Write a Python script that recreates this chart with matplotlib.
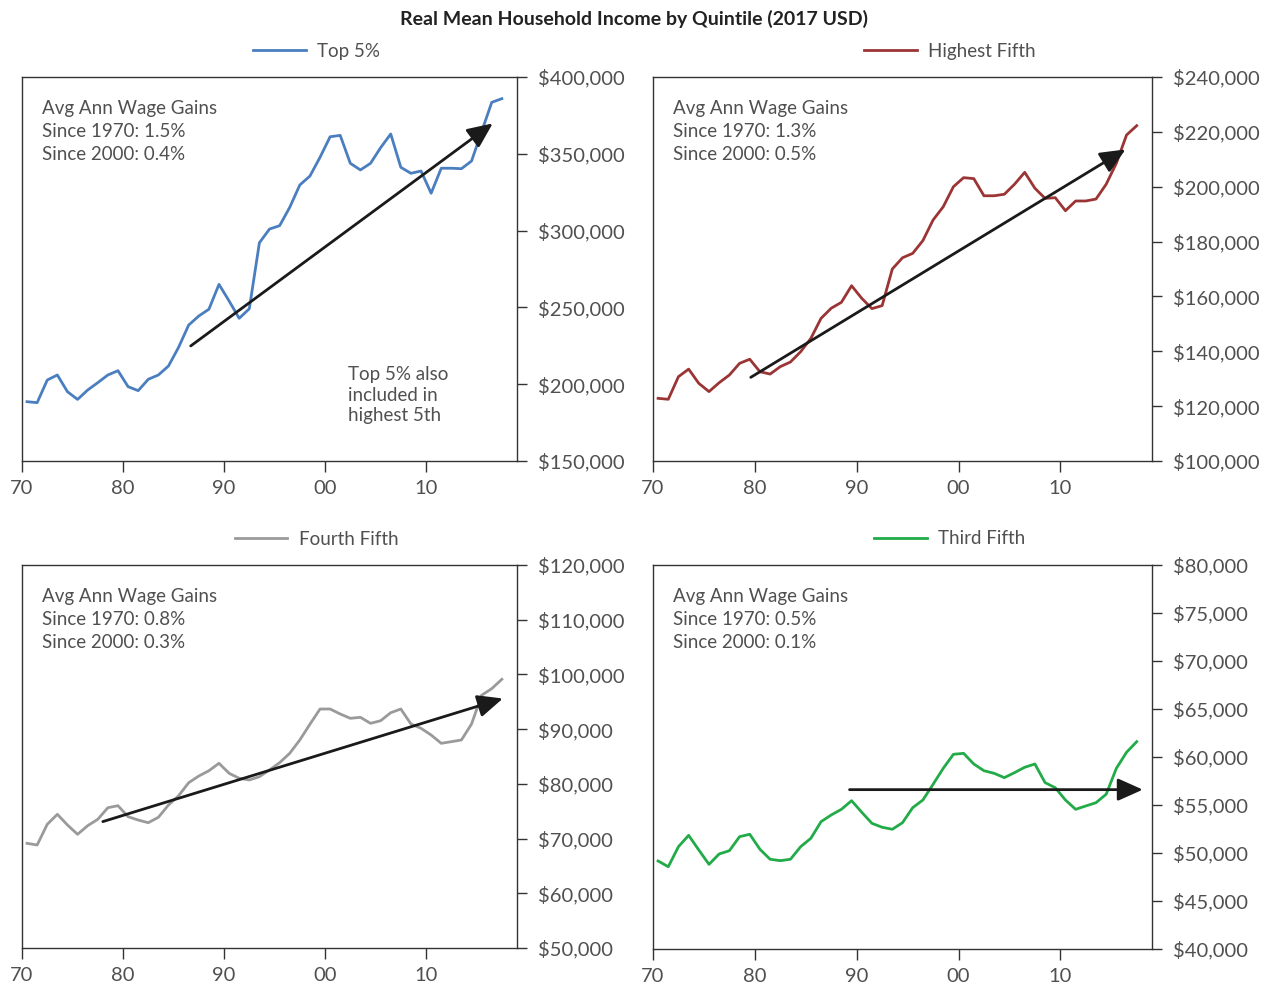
import matplotlib
matplotlib.use("Agg")
import matplotlib.pyplot as plt
from matplotlib.ticker import FuncFormatter, MultipleLocator

plt.rcParams['font.family'] = ['Lato', 'DejaVu Sans']

# Years 1970-2017, plotted at mid-year
years = list(range(1970, 2018))

top5 = [188600, 188000, 202700, 206000, 195100, 190100, 196200, 201000, 206000, 208800,
        198400, 195800, 203200, 206000, 211850, 224000, 238500, 244400, 248800, 265000,
        254200, 242900, 249100, 292100, 301000, 303200, 315100, 329700, 335500, 347700,
        361100, 362000, 343800, 339500, 343800, 354000, 362900, 341200, 337300, 338800,
        324300, 340600, 340600, 340300, 345300, 364400, 383500, 385900]

highest = [122850, 122500, 130750, 133500, 128300, 125300, 128550, 131350, 135600, 137100,
           132550, 131700, 134400, 136100, 139850, 144700, 152000, 155700, 157850, 163900,
           159300, 155550, 156650, 170000, 174100, 175700, 180350, 187850, 192700, 200000,
           203300, 202950, 196700, 196700, 197250, 200900, 205250, 199450, 195750, 196000,
           191250, 194800, 194800, 195500, 200900, 208550, 218850, 222250]

fourth = [69130, 68830, 72610, 74440, 72480, 70780, 72350, 73520, 75640, 76010,
          74000, 73390, 72900, 73890, 76130, 77830, 80210, 81430, 82400, 83760,
          81930, 81020, 80710, 81310, 82530, 83870, 85580, 88020, 90890, 93680,
          93680, 92770, 91980, 92160, 91060, 91540, 93000, 93680, 90940, 90150,
          88930, 87410, 87710, 88020, 90940, 96200, 97400, 99110]

third = [49170, 48570, 50660, 51840, 50310, 48820, 49900, 50240, 51700, 51950,
         50390, 49350, 49200, 49350, 50660, 51530, 53260, 53960, 54550, 55450,
         54240, 53090, 52680, 52470, 53160, 54720, 55520, 57150, 58820, 60280,
         60380, 59270, 58570, 58300, 57850, 58370, 58930, 59270, 57330, 56800,
         55520, 54550, 54900, 55240, 56120, 58820, 60490, 61600]

series_names = ["Top 5%", "Highest Fifth", "Fourth Fifth", "Third Fifth"]
series_colors = ["#4a7ebf", "#9b3535", "#9a9a9a", "#22ab48"]
gains_1970 = ["1.5%", "1.3%", "0.8%", "0.5%"]
gains_2000 = ["0.4%", "0.5%", "0.3%", "0.1%"]

# y ranges and tick steps
y_lims = [(150000, 400000), (100000, 240000), (50000, 120000), (40000, 80000)]
y_steps = [50000, 20000, 10000, 5000]

# trend arrows: (start year, start value), (end year, end value)
trend_start = [(1986.7, 224900), (1979.6, 130500), (1978.0, 73100), (1989.3, 56600)]
trend_end = [(2016.6, 369800), (2016.4, 213600), (2017.6, 95600), (2018.1, 56600)]

all_data = [top5, highest, fourth, third]

fig = plt.figure(figsize=(12.67, 9.85), dpi=100)

W, H = 1267, 985
# axes boxes in pixels: left, top, right, bottom
boxes = [(22, 77, 517, 461), (653, 77, 1152, 461),
         (22, 565, 517, 948), (653, 565, 1152, 949)]

text_col = "#505050"
spine_col = "#333333"

fig.text(0.5, 1 - 19 / H, "Real Mean Household Income by Quintile (2017 USD)",
         ha='center', va='center', fontsize=14, fontweight='bold', color='#222222')

x_mid = [y + 0.5 for y in years]

for i in range(4):
    l, t, r, b = boxes[i]
    ax = fig.add_axes([l / W, 1 - b / H, (r - l) / W, (b - t) / H])
    ax.plot(x_mid, all_data[i], color=series_colors[i], lw=2.0, label=series_names[i])
    ax.set_xlim(1970, 2019)
    ax.set_ylim(*y_lims[i])
    ax.yaxis.tick_right()
    ax.yaxis.set_major_locator(MultipleLocator(y_steps[i]))
    ax.yaxis.set_major_formatter(FuncFormatter(lambda v, p: f"${v:,.0f}"))
    ax.set_xticks([1970, 1980, 1990, 2000, 2010])
    ax.set_xticklabels(["70", "80", "90", "00", "10"])
    ax.tick_params(axis='both', direction='out', colors=spine_col, labelcolor=text_col,
                   labelsize=14.5, width=1.0)
    ax.tick_params(axis='x', length=8, pad=6)
    ax.tick_params(axis='y', length=7, pad=8)
    for s in ax.spines.values():
        s.set_color(spine_col)
        s.set_linewidth(1.0)

    ax.annotate('', xy=trend_end[i], xytext=trend_start[i],
                arrowprops=dict(arrowstyle='-|>,head_length=0.85,head_width=0.38',
                                color='#1a1a1a', lw=2, mutation_scale=18,
                                shrinkA=0, shrinkB=0))

    ax.text(0.041, 0.941, "Avg Ann Wage Gains\nSince 1970: " + gains_1970[i]
            + "\nSince 2000: " + gains_2000[i],
            transform=ax.transAxes, ha='left', va='top', fontsize=13.5,
            color=text_col, linespacing=1.45)

    ax.legend(loc='center', bbox_to_anchor=(0.595, 1 + 26 / 384), frameon=False,
              fontsize=13.5, handlelength=2.8, handletextpad=0.6, labelcolor=text_col,
              borderpad=0, borderaxespad=0)

    if i == 0:
        ax.text(0.658, 0.247, "Top 5% also\nincluded in\nhighest 5th",
                transform=ax.transAxes, ha='left', va='top', fontsize=13.5,
                color=text_col, linespacing=1.26)

fig.savefig("out.png", dpi=100)
